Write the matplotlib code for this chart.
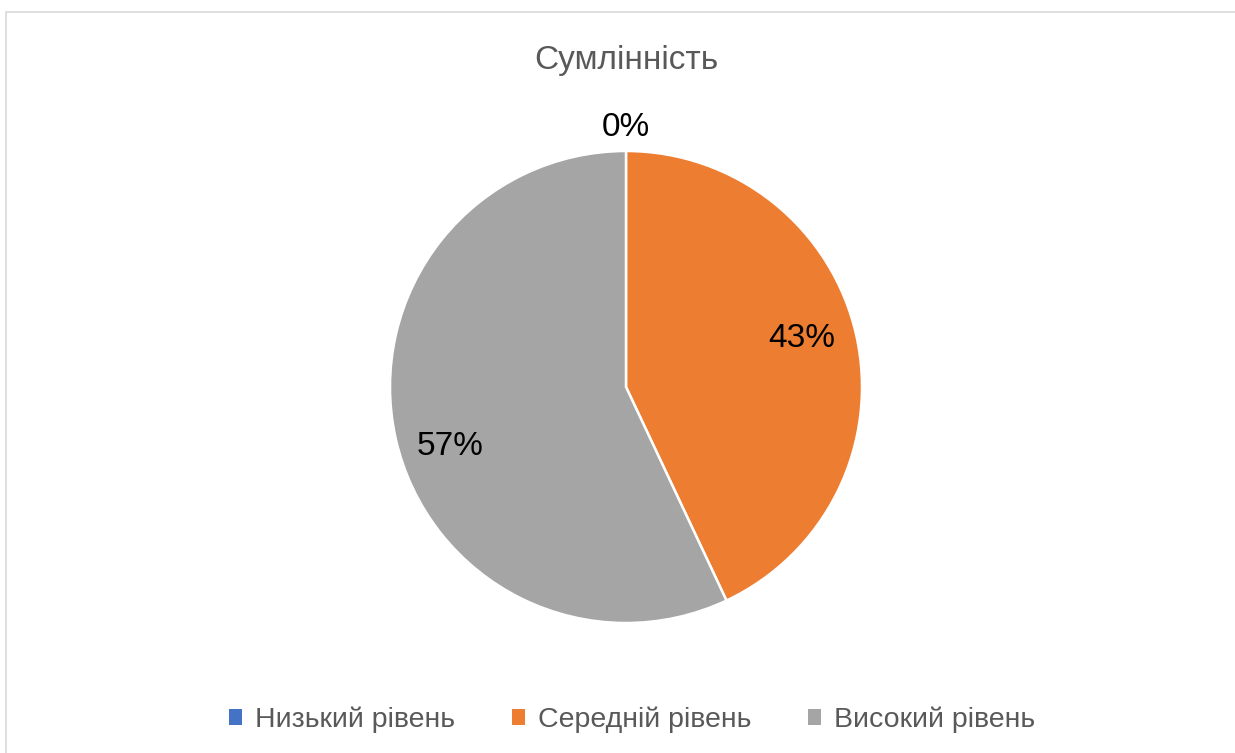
import matplotlib.pyplot as plt
from matplotlib.patches import Rectangle
import numpy as np

plt.rcParams['font.family'] = ['Liberation Sans', 'DejaVu Sans']

title = 'Сумлінність'
categories = ['Низький рівень', 'Середній рівень', 'Високий рівень']
values = [0, 43, 57]
colors = ['#4472C4', '#ED7D31', '#A5A5A5']

W, H = 1235, 753
fig = plt.figure(figsize=(W / 100, H / 100), dpi=100)

# light frame of the chart area (top and left edges visible)
fig.patches.append(Rectangle((6 / W, -0.1), 1.2, 1 - 12 / H + 0.1, transform=fig.transFigure,
                             fill=False, edgecolor='#D9D9D9', linewidth=1.2))

ax = fig.add_axes([390 / W, (H - 623) / H, 472 / W, 472 / H])
wedges, _ = ax.pie(values, colors=colors, startangle=90, counterclock=False, radius=1,
                   wedgeprops=dict(edgecolor='white', linewidth=1.8))
ax.set_xlim(-1, 1)
ax.set_ylim(-1, 1)
ax.set_aspect('equal')
ax.axis('off')

# percentage labels
total = sum(values)
for w, v in zip(wedges, values):
    pct = f'{round(100 * v / total)}%'
    if v == 0:
        x, y = 0, 1.12
    else:
        ang = np.deg2rad((w.theta1 + w.theta2) / 2 + 4.5)
        x, y = 0.78 * np.cos(ang), 0.78 * np.sin(ang)
    ax.text(x, y - 0.022, pct, ha='center', va='center', fontsize=24, color='black')

fig.text(626 / W, 1 - 60 / H, title, ha='center', va='center', fontsize=24, color='#595959')

handles = [Rectangle((0, 0), 1, 1, facecolor=c) for c in colors]
fig.legend(handles, categories, loc='center', bbox_to_anchor=(632 / W, 1 - 720 / H), ncol=3,
           frameon=False, fontsize=20.5, labelcolor='#595959', handlelength=0.45, handleheight=0.45,
           handletextpad=0.45, columnspacing=2.0)

fig.savefig('out.png', dpi=100)
